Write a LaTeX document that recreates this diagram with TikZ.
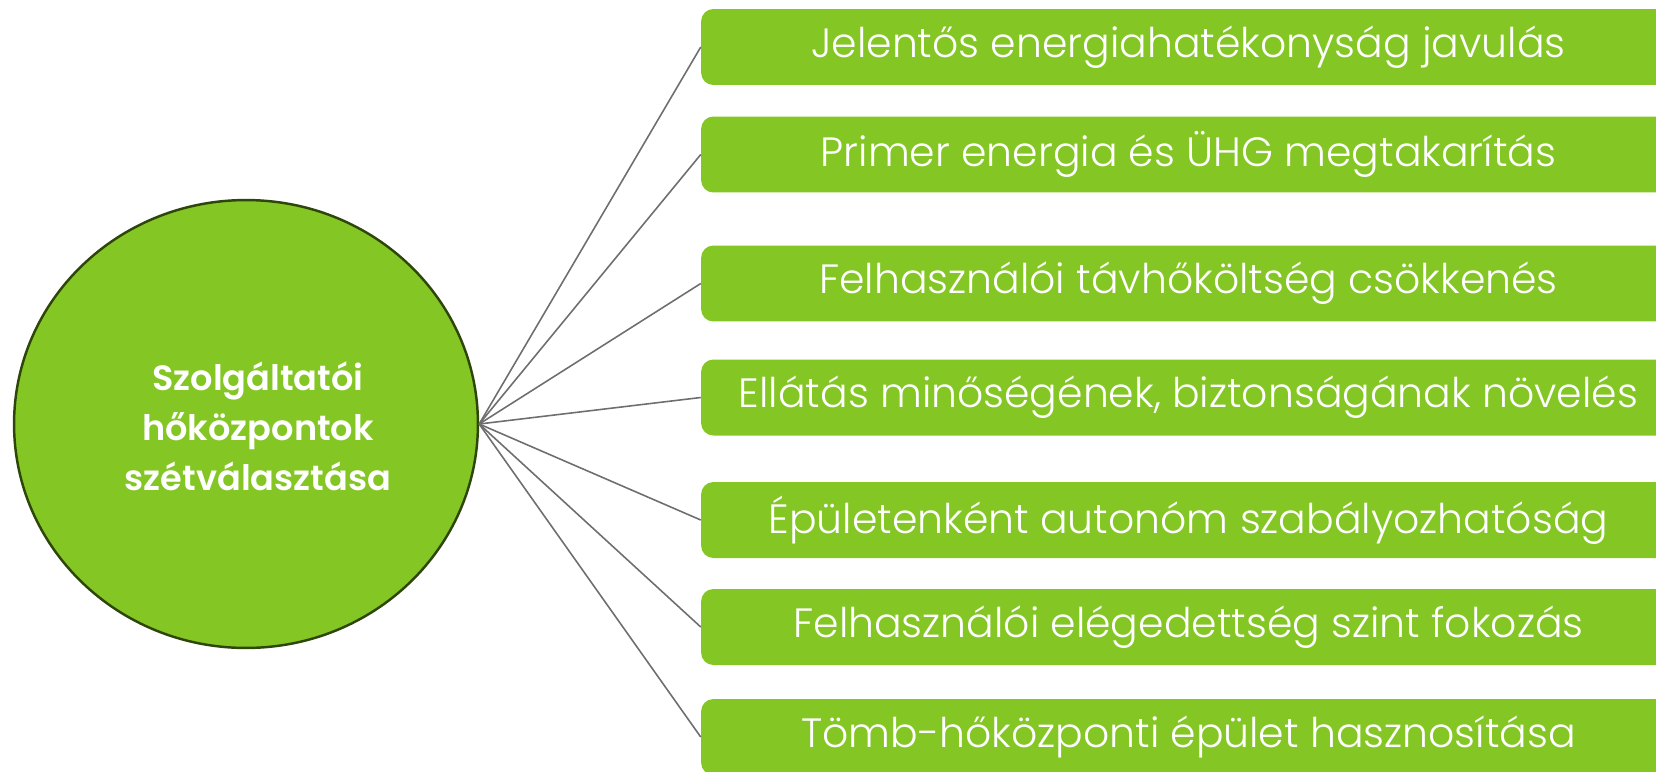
\documentclass[tikz,border=0pt]{standalone}
\usepackage{fontspec}
\setmainfont{Poppins}[UprightFont={* Light},BoldFont={* SemiBold}]
\usetikzlibrary{shapes.geometric}
\definecolor{leaf}{RGB}{132,199,37}
\definecolor{leafdark}{RGB}{46,70,10}
\definecolor{spoke}{RGB}{110,110,110}

\begin{document}
\begin{tikzpicture}[x=0.02cm,y=-0.02cm,
	hubnode/.style={ellipse,fill=leaf,draw=leafdark,line width=1.4pt,minimum width=9.28cm,minimum height=8.96cm},
	hubtext/.style={text=white,align=center,font=\fontsize{20}{28.5}\selectfont\bfseries},
	itembox/.style={rectangle,rounded corners=7pt,fill=leaf,minimum width=19.5cm,minimum height=1.52cm,text=white,font=\fontsize{23.3}{28}\selectfont},
	spokeline/.style={draw=spoke,line width=0.9pt}]
	\useasboundingbox (0,0) rectangle (1656,771);
	\clip (0,0) rectangle (1656,771);
	\node[hubnode] (hub) at (246,424) {};
	\node[hubtext] (hubtxt) at (258,426) {Szolgáltatói\\hőközpontok\\szétválasztása};
	\node[itembox] (b1) at (1188.5,47) {Jelentős energiahatékonyság javulás};
	\node[itembox] (b2) at (1188.5,154.5) {Primer energia és ÜHG megtakarítás};
	\node[itembox] (b3) at (1188.5,283.5) {Felhasználói távhőköltség csökkenés};
	\node[itembox] (b4) at (1188.5,397.5) {Ellátás minőségének, biztonságának növelés};
	\node[itembox] (b5) at (1188.5,520) {Épületenként autonóm szabályozhatóság};
	\node[itembox] (b6) at (1188.5,627) {Felhasználói elégedettség szint fokozás};
	\node[itembox] (b7) at (1188.5,737) {Tömb-hőközponti épület hasznosítása};
	\draw[spokeline] (hub.east) -- (b1.west);
	\draw[spokeline] (hub.east) -- (b2.west);
	\draw[spokeline] (hub.east) -- (b3.west);
	\draw[spokeline] (hub.east) -- (b4.west);
	\draw[spokeline] (hub.east) -- (b5.west);
	\draw[spokeline] (hub.east) -- (b6.west);
	\draw[spokeline] (hub.east) -- (b7.west);
\end{tikzpicture}
\end{document}
